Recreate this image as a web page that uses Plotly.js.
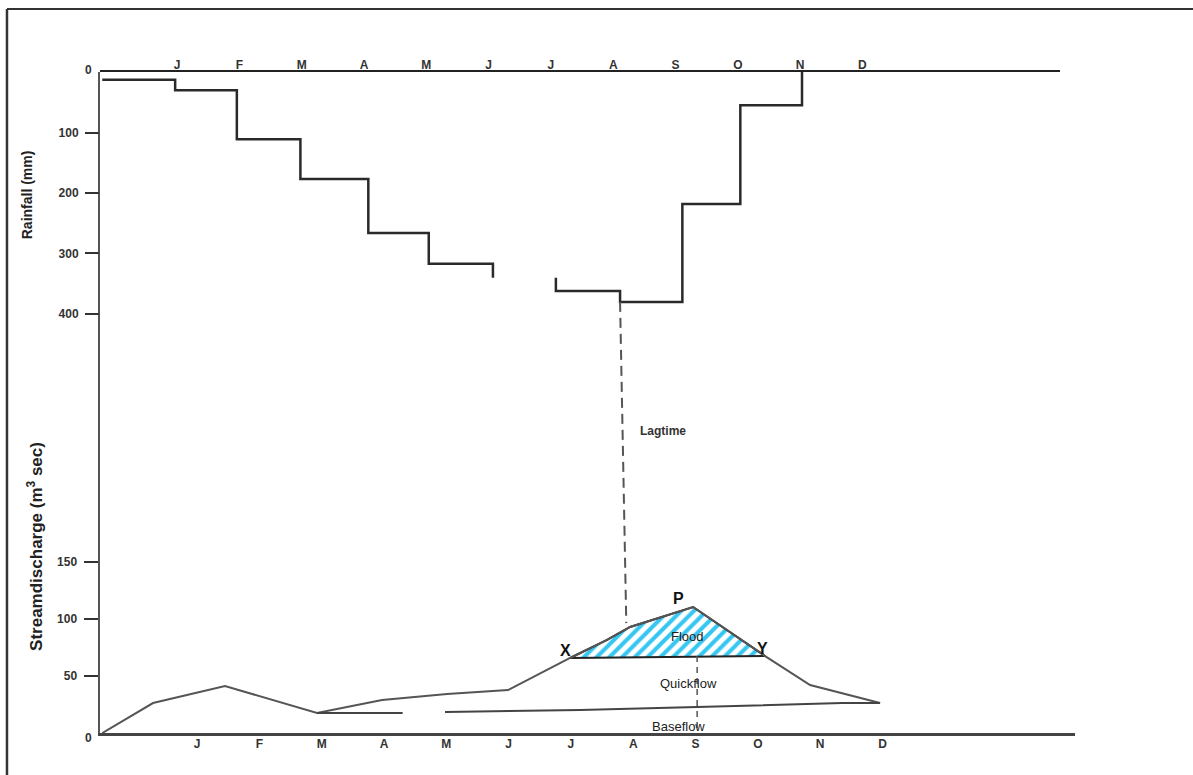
<!DOCTYPE html>
<html>
<head>
<meta charset="utf-8">
<script src="https://cdn.plot.ly/plotly-3.0.1.min.js"></script>
<style>html,body{margin:0;padding:0;background:#fff;}#chart{width:1193px;height:775px;}</style>
</head>
<body>
<div id="chart"></div>
<script>
// ---- data ----
const monthLabels = ['J','F','M','A','M','J','J','A','S','O','N','D'];
const monthTicks = [1,2,3,4,5,6,7,8,9,10,11,12];
const rainTicks = [100,200,300,400];
const flowTicks = [50,100,150];

// rainfall step line (top month axis, mm, downward)
const rainX1 = [-0.2, 0.97, 1.96, 2.98, 4.07, 5.04, 6.07];
const rainY1 = [13, 30, 111, 177, 266, 317, 340];
const rainX2 = [7.08, 7.08, 8.11, 9.11, 10.04, 11.03];
const rainY2 = [340, 362, 380, 218, 55, 0];

// lag time connector (rainfall axes)
const lagX = [8.11, 8.21];
const lagY = [380, 911];

// stream discharge hydrograph (bottom month axis)
const hydroX = [-0.52, 0.294, 1.449, 2.925, 3.970, 5.013, 5.992, 6.987, 7.581, 7.950, 8.961, 10.117, 10.839, 11.962];
const hydroY = [0, 26.3, 41.2, 17.5, 28.9, 34.2, 37.7, 65.8, 81.6, 93.0, 110.5, 67.5, 42.1, 26.3];

// flood region X-P-Y
const floodX = [6.987, 7.581, 7.950, 8.961, 10.117, 6.987];
const floodY = [65.8, 81.6, 93.0, 110.5, 67.5, 65.8];

// baseflow separation line
const baseX = [2.925, 4.30, null, 4.98, 7.148, 9.026, 11.355, 11.962];
const baseY = [17.5, 17.5, null, 18.4, 20.2, 22.8, 26.3, 26.3];

// dashed line at S
const sX = [9.026, 9.026];
const sY = [67.5, 0];

const FONT = 'Liberation Sans, Arial, sans-serif';

const traces = [
  {x: floodX, y: floodY, xaxis: 'x', yaxis: 'y2', type: 'scatter', mode: 'lines',
   fill: 'toself', fillcolor: 'rgba(255,255,255,0)',
   fillpattern: {shape: '/', fgcolor: '#35c6f2', bgcolor: '#ffffff', size: 9, solidity: 0.45},
   line: {color: '#222', width: 2}, hoverinfo: 'skip'},
  {x: hydroX, y: hydroY, xaxis: 'x', yaxis: 'y2', type: 'scatter', mode: 'lines',
   line: {color: '#555', width: 2}},
  {x: baseX, y: baseY, xaxis: 'x', yaxis: 'y2', type: 'scatter', mode: 'lines',
   line: {color: '#444', width: 2}, connectgaps: false},
  {x: sX, y: sY, xaxis: 'x', yaxis: 'y2', type: 'scatter', mode: 'lines',
   line: {color: '#555', width: 1.5, dash: '6px,5px'}},
  {x: rainX1, y: rainY1, xaxis: 'x2', yaxis: 'y', type: 'scatter', mode: 'lines',
   line: {color: '#2a2a2a', width: 2.5, shape: 'hv'}},
  {x: rainX2, y: rainY2, xaxis: 'x2', yaxis: 'y', type: 'scatter', mode: 'lines',
   line: {color: '#2a2a2a', width: 2.5, shape: 'hv'}},
  {x: lagX, y: lagY, xaxis: 'x2', yaxis: 'y', type: 'scatter', mode: 'lines',
   line: {color: '#555', width: 2, dash: '10px,6px'}}
];

const tickFont = {family: FONT, size: 12, color: '#333', weight: 'bold'};

function label(text, xref, yref, x, y, font, extra) {
  return Object.assign({text: text, xref: xref, yref: yref, x: x, y: y, showarrow: false,
    xanchor: 'center', yanchor: 'middle', font: font}, extra || {});
}

const layout = {
  width: 1193, height: 775,
  margin: {l: 100, r: 118, t: 72, b: 42, pad: 0},
  paper_bgcolor: '#ffffff', plot_bgcolor: 'rgba(0,0,0,0)',
  showlegend: false,
  xaxis: {domain: [0, 1], anchor: 'y2', range: [-0.557, 15.09],
    tickmode: 'array', tickvals: monthTicks, ticktext: monthLabels,
    ticks: '', showgrid: false, zeroline: false, showline: true,
    linecolor: '#444', linewidth: 3, tickfont: tickFont, ticklabelstandoff: -2, fixedrange: true},
  xaxis2: {domain: [0, 0.9846], anchor: 'y', side: 'top', range: [-0.236, 15.17],
    tickmode: 'array', tickvals: monthTicks, ticktext: monthLabels,
    ticks: '', showgrid: false, zeroline: false, showline: true,
    linecolor: '#222', linewidth: 2.5, tickfont: tickFont, ticklabelstandoff: -4, fixedrange: true},
  yaxis: {domain: [0, 1], anchor: 'x2', range: [1092.6, 0],
    tickmode: 'array', tickvals: rainTicks, ticktext: rainTicks.map(String),
    ticks: 'outside', ticklen: 14, tickwidth: 2, tickcolor: '#333', ticklabelstandoff: 4,
    showgrid: false, zeroline: false, showline: false, tickfont: tickFont, fixedrange: true},
  yaxis2: {domain: [0, 1], anchor: 'x', range: [0, 579.8],
    tickmode: 'array', tickvals: flowTicks, ticktext: flowTicks.map(String),
    ticks: 'outside', ticklen: 14, tickwidth: 2, tickcolor: '#333', ticklabelstandoff: 4,
    showgrid: false, zeroline: false, showline: true, linecolor: '#555', linewidth: 2.5,
    tickfont: tickFont, fixedrange: true},
  shapes: [
    {type: 'line', xref: 'paper', yref: 'paper', x0: -0.0954, x1: 1.125, y0: 1.0953, y1: 1.0953,
     line: {color: '#333', width: 2}},
    {type: 'line', xref: 'paper', yref: 'paper', x0: -0.0954, x1: -0.0954, y0: 1.0953, y1: -0.07,
     line: {color: '#333', width: 2.5}}
  ],
  annotations: [
    label('Rainfall (mm)', 'paper', 'paper', -0.0749, 0.815,
      {family: FONT, size: 14, color: '#222', weight: 'bold'}, {textangle: -90}),
    label('Streamdischarge (m<sup>3</sup> sec)', 'paper', 'paper', -0.0667, 0.283,
      {family: FONT, size: 17, color: '#222', weight: 'bold'}, {textangle: -90}),
    label('0', 'paper', 'paper', -0.0062, 1.003, tickFont, {xanchor: 'right'}),
    label('0', 'paper', 'paper', -0.0062, -0.0076, tickFont, {xanchor: 'right'}),
    label('Lagtime', 'x2', 'y', 8.80, 593, {family: FONT, size: 12, color: '#333', weight: 'bold'}),
    label('P', 'x', 'y2', 8.72, 118.4, {family: FONT, size: 16, color: '#111', weight: 'bold'}),
    label('X', 'x', 'y2', 6.92, 72.8, {family: FONT, size: 16, color: '#111', weight: 'bold'}),
    label('Y', 'x', 'y2', 10.08, 74, {family: FONT, size: 16, color: '#111', weight: 'bold'}),
    label('Flood', 'x', 'y2', 8.87, 85, {family: FONT, size: 13, color: '#222'}),
    label('Quickflow', 'x', 'y2', 8.885, 43, {family: FONT, size: 13, color: '#222'}),
    label('Baseflow', 'x', 'y2', 8.72, 6.1, {family: FONT, size: 13, color: '#222'})
  ]
};

Plotly.newPlot('chart', traces, layout, {displayModeBar: false, staticPlot: true});
</script>
</body>
</html>
